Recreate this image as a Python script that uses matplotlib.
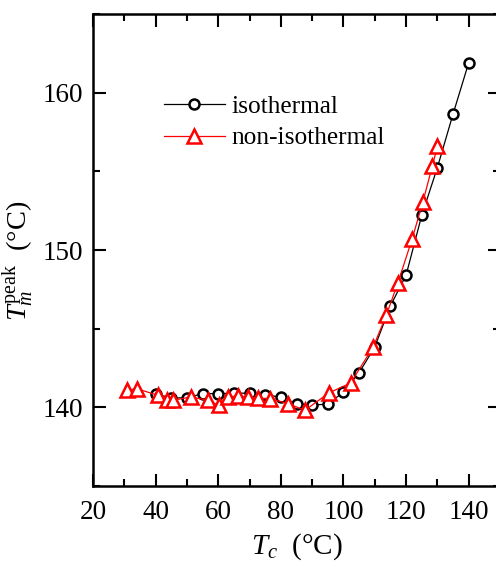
import matplotlib
matplotlib.use("Agg")
import matplotlib.pyplot as plt
from matplotlib.ticker import MultipleLocator

plt.rcParams['font.family'] = ['Liberation Serif', 'DejaVu Serif']
plt.rcParams['mathtext.fontset'] = 'custom'
plt.rcParams['mathtext.rm'] = 'Liberation Serif'
plt.rcParams['mathtext.it'] = 'Liberation Serif:italic'

# Isothermal crystallization: peak melting temperature vs Tc
tc_iso = [40, 45, 50, 55, 60, 65, 70, 75, 80, 85, 90, 95, 100,
          105, 110, 115, 120, 125, 130, 135, 140]
tm_iso = [140.85, 140.6, 140.6, 140.87, 140.87, 140.9, 140.9, 140.78, 140.66,
          140.22, 140.15, 140.2, 140.97, 142.2, 143.84, 146.45, 148.4,
          152.2, 155.24, 158.64, 161.9]

# Non-isothermal crystallization
tc_non = [30.9, 33.9, 40.8, 43.5, 45.6, 51.3, 56.6, 60.2, 63.2, 66.2, 69.6,
          72.8, 76.5, 82.3, 87.7, 95.3, 102.3, 109.5, 113.7, 117.4, 121.9,
          125.4, 128.4, 130.0]
tm_non = [141.08, 141.19, 140.76, 140.45, 140.45, 140.66, 140.45, 140.13,
          140.66, 140.72, 140.66, 140.59, 140.55, 140.24, 139.81, 140.91,
          141.55, 143.84, 145.86, 147.92, 150.68, 153.08, 155.35, 156.58]

W, H = 496, 562
fig = plt.figure(figsize=(W / 100, H / 100), dpi=100)
ax = fig.add_axes([93 / W, 1 - 486 / H, (500 - 93) / W, (486 - 14) / H])

ax.plot(tc_iso, tm_iso, color='black', lw=0.9, marker='o', ms=7.2,
        mfc='white', mec='black', mew=1.8, label='isothermal')
ax.plot(tc_non, tm_non, color='red', lw=0.9, marker='^', ms=9.4,
        mfc='white', mec='red', mew=1.8, label='non-isothermal')

ax.set_xlim(20, 150)
ax.set_ylim(135, 165)
ax.xaxis.set_major_locator(MultipleLocator(20))
ax.xaxis.set_minor_locator(MultipleLocator(10))
ax.yaxis.set_major_locator(MultipleLocator(10))
ax.yaxis.set_minor_locator(MultipleLocator(5))
ax.tick_params(which='both', direction='in', top=True, right=True,
               width=1.5, labelsize=19.5)
ax.tick_params(which='major', length=9)
ax.tick_params(which='minor', length=5)
ax.tick_params(axis='x', pad=10)
ax.tick_params(axis='y', pad=7)
for s in ax.spines.values():
    s.set_linewidth(1.8)

ax.set_xlabel(r'$T_c$  (°C)', fontsize=21, labelpad=5)
ax.set_ylabel(r'$T_m^{\mathrm{peak}}$  (°C)', fontsize=20.5)
ax.yaxis.set_label_coords(-0.14, 0.477)

leg = ax.legend(loc='upper left', bbox_to_anchor=(0.1744, 0.829), frameon=False,
                fontsize=18.3, handlelength=2.4, handletextpad=0.25,
                labelspacing=0.36, borderpad=0, borderaxespad=0)

fig.savefig('out.png', dpi=100)
